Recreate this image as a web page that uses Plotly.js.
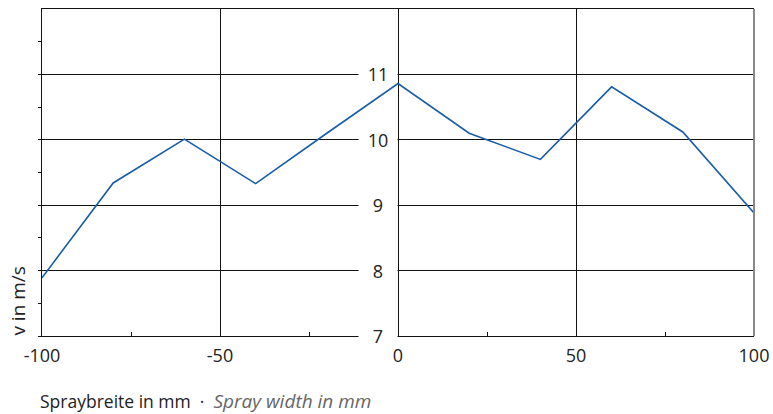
<!DOCTYPE html>
<html><head><meta charset="utf-8">
<script src="https://cdn.plot.ly/plotly-3.0.1.min.js"></script>
<style>html,body{margin:0;padding:0;background:#fff}</style>
</head><body>
<div id="chart" style="width:773px;height:414px"></div>
<script>
const sprayWidth = [-100, -80, -60, -40, -20, 0, 20, 40, 60, 80, 100];
const velocity   = [7.89, 9.34, 10.01, 9.33, 10.1, 10.86, 10.1, 9.7, 10.81, 10.12, 8.88];
const xTicks = [-100, -50, 0, 50, 100];
const xTickLabels = ['-100', '-50', '0', '50', '100'];
const yTicks = [7, 8, 9, 10, 11];
const yTitle = 'v in m/s';
const xTitleDe = 'Spraybreite in mm';
const xTitleEn = 'Spray width in mm';

const FONT = 'Open Sans, Liberation Sans, Arial, sans-serif';

const yLabelAnnotations = yTicks.map(v => ({
  x: -5.75, y: v, xref: 'x', yref: 'y',
  text: String(v), showarrow: false,
  xanchor: 'center', yanchor: 'middle',
  width: 38, height: 14, bgcolor: '#ffffff', borderpad: 0,
  font: {family: FONT, size: 18, color: '#222'}
}));

const layout = {
  width: 773, height: 414,
  margin: {l: 42, r: 19, t: 9, b: 78},
  paper_bgcolor: '#fff', plot_bgcolor: '#fff',
  showlegend: false,
  font: {family: FONT, size: 18, color: '#222'},
  xaxis: {
    range: [-100, 100], tickvals: xTicks, ticktext: xTickLabels,
    showgrid: true, gridcolor: '#111', gridwidth: 1,
    zeroline: false, showline: true, mirror: true, linecolor: '#111', linewidth: 1,
    ticks: '', ticklen: 0, ticklabelstandoff: 3,
    tickfont: {family: FONT, size: 18, color: '#222'},
    minor: {tickvals: [-75, -25, 25, 75], ticks: 'inside', ticklen: 4, tickcolor: '#111', showgrid: false}
  },
  yaxis: {
    range: [7, 12], tickvals: yTicks, showticklabels: false,
    showgrid: true, gridcolor: '#111', gridwidth: 1,
    zeroline: false, showline: true, mirror: false, linecolor: '#111', linewidth: 1,
    ticks: 'outside', ticklen: 3, tickcolor: '#111',
    minor: {tick0: 7.5, dtick: 1, ticks: 'outside', ticklen: 3, tickcolor: '#111', showgrid: false}
  },
  shapes: [
    {type: 'line', xref: 'paper', yref: 'paper', x0: 1, x1: 1, y0: 0, y1: 1,
     line: {color: '#888', width: 2}}
  ],
  annotations: yLabelAnnotations.concat([
    {x: -0.035, y: 0, xref: 'paper', yref: 'paper', text: yTitle, textangle: -90,
     showarrow: false, xanchor: 'center', yanchor: 'bottom', yshift: -2,
     font: {family: FONT, size: 19, color: '#222'}},
    {x: -0.0056, y: -0.199, xref: 'paper', yref: 'paper',
     text: xTitleDe + '  \u00b7  <i><span style="color:#666;font-size:19px">' + xTitleEn + '</span></i>',
     showarrow: false, xanchor: 'left', yanchor: 'middle',
     font: {family: FONT, size: 17.5, color: '#222'}}
  ])
};

const data = [{
  type: 'scatter', mode: 'lines',
  x: sprayWidth, y: velocity,
  line: {color: '#1a5ca7', width: 1.6},
  hoverinfo: 'skip'
}];

Plotly.newPlot('chart', data, layout, {staticPlot: true, displayModeBar: false});
</script>
</body></html>
